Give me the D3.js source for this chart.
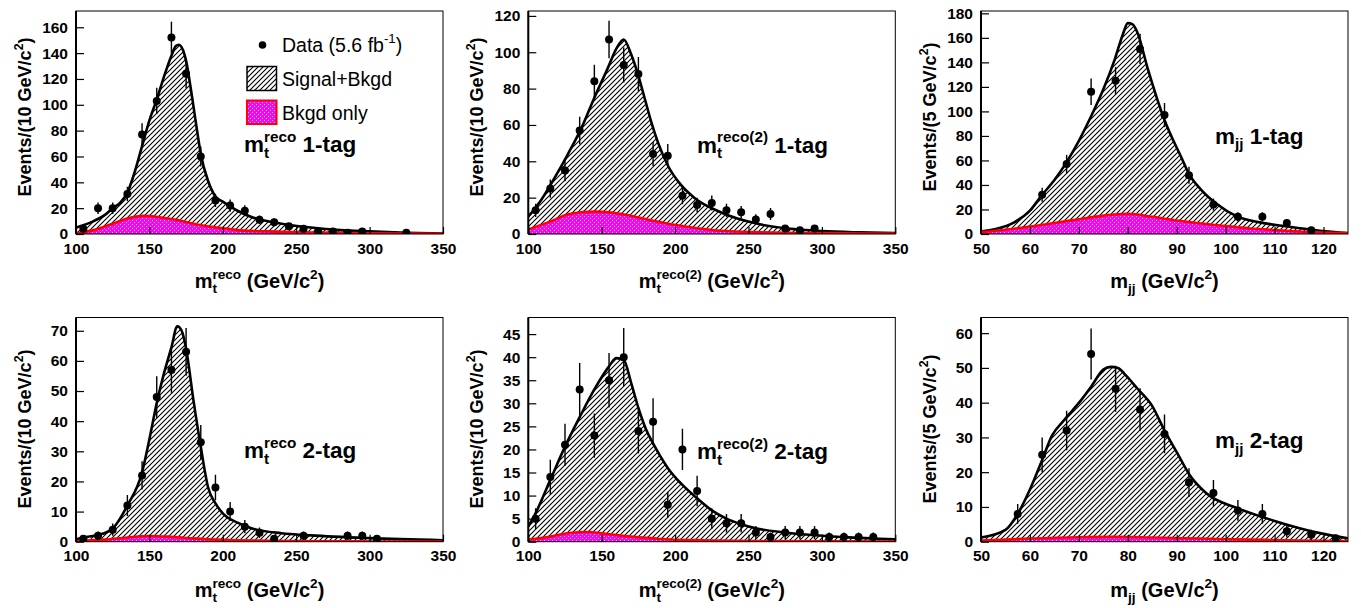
<!DOCTYPE html>
<html>
<head>
<meta charset="utf-8">
<script src="https://cdn.jsdelivr.net/npm/d3@7"></script>
<style>
  body { margin: 0; background: #fff; }
  svg { font-family: "Liberation Sans", Arial, Helvetica, sans-serif; }
  text { white-space: pre; }
</style>
</head>
<body>
<div id="chart"></div>
<script>
// bin centres
var mtBins  = [105,115,125,135,145,155,165,175,185,195,205,215,225,235,245,255,265,275,285,295,305,315,325,335,345];
var mjjBins = [52.5,57.5,62.5,67.5,72.5,77.5,82.5,87.5,92.5,97.5,102.5,107.5,112.5,117.5,122.5];

// tick labels
var mtTicks  = [100,150,200,250,300,350];
var mjjTicks = [50,60,70,80,90,100,110,120];
var yTicks1 = [0,20,40,60,80,100,120,140,160];
var yTicks2 = [0,20,40,60,80,100,120];
var yTicks3 = [0,20,40,60,80,100,120,140,160,180];
var yTicks4 = [0,10,20,30,40,50,60,70];
var yTicks5 = [0,5,10,15,20,25,30,35,40,45];
var yTicks6 = [0,10,20,30,40,50,60];

// data counts per bin (0 = empty, not drawn)
var data1 = [4,20,20,31,77,103,152,124,60,26,22,18,11,9,6,4,2,2,1,2,0,0,1,0,0];
var data2 = [13,25,35,57,84,107,93,88,44,43,21,16,17,13,12,8,11,3,2,3,0,0,0,0,0];
var data3 = [0,0,32,57,116,125,151,97,48,24,14,14,9,3,0];
var data4 = [1,2,4,12,22,48,57,63,33,18,10,5,3,1,0,2,0,0,2,2,1,0,0,0,0];
var data5 = [5,14,21,33,23,35,40,24,26,8,20,11,5,4,4,2,1,2,2,2,1,1,1,1,0];
var data6 = [0,8,25,32,54,44,38,31,17,14,9,8,3,2,1];

// Signal+Bkgd curves [mass, events]
var total1 = [[100,5],[112,10],[120,15],[125,20],[130,24],[135,32],[140,48],[145,68],[150,88],[155,104],[160,122],[165,138],[168,145.5],[170,146.5],[173,142],[175,134],[178,114],[180,99],[183,76],[185,62],[190,41],[195,29],[200,25],[210,18],[220,13],[230,10],[240,8],[260,5],[280,3],[300,2],[325,1],[350,0.4]];
var total2 = [[100,9.5],[109,19],[118,31],[127,44],[136,58],[145,75],[154,91],[160,102],[165,107],[170,99],[175,87],[179.5,74],[184,61],[188.5,50],[195.5,37],[204,27],[213,20],[231,12],[254,6],[277,3],[300,1.6],[325,0.9],[350,0.5]];
var total3 = [[50,2],[53,4],[56.8,9.5],[60,19],[62.3,31],[65,44],[67.4,58],[70,76],[72.5,96],[75,118],[77.3,142],[79,163],[80,172],[81,171],[82,164],[84,136],[87.5,93],[91,62],[92.5,49],[95,36],[98,25],[102.3,14.4],[107,9.5],[112.5,6.2],[119.3,2.7],[125,0.8]];
var total4 = [[100,0.8],[105,1.4],[115,2.2],[125,4.4],[135,12],[145,23],[150,34],[155,46],[160,56],[165,64.5],[169,71.5],[172,70],[175,64],[180,47],[185,31.5],[190,18],[195,12.7],[200,9.4],[210,6.3],[220,4.4],[240,2.8],[260,2.1],[300,1.2],[350,0.5]];
var total5 = [[100,3.3],[105,6.2],[115,13.4],[125,20.6],[135,27],[145,33],[155,38],[160,39.8],[165,39.4],[170,34.5],[175,29],[180,24.5],[185,21.3],[190,18.5],[195,16],[205,12.3],[215,9.4],[225,6.8],[235,5],[245,3.8],[255,2.9],[275,2],[295,1.4],[315,1],[350,0.5]];
var total6 = [[50,1.2],[55,3.4],[57.5,8],[60,15],[62.5,23.5],[64.5,30.5],[67,35],[70.5,40.8],[72.5,44.6],[75,49.5],[76.5,50.3],[78,50],[79.5,48],[82,44],[85,39],[87.5,32],[90.5,24.5],[92.5,19.5],[96,14],[102.5,9.6],[109.5,6.2],[119.5,2.4],[125,1]];

// Bkgd only curves
var bkg1 = [[100,0.5],[112,3],[125,8],[135,12],[146,14],[157,13],[169,10.8],[180,8],[191,5.7],[200,4.5],[214,2.6],[230,2],[250,1.4],[300,0.6],[350,0.2]];
var bkg2 = [[100,2.5],[115,6.8],[128,11],[146,12.3],[167,10.5],[185,7.3],[208,4],[231,1.8],[260,1],[300,0.5],[350,0.2]];
var bkg3 = [[50,1.5],[55,3.5],[60,6],[65,9],[70,12],[75,15],[80,16.5],[85,14],[90,11],[95,8.5],[100,6.5],[105,4.5],[110,3.2],[115,2],[120,1.2],[125,0.6]];
var bkg4 = [[100,0.2],[120,0.7],[135,1.4],[150,1.9],[165,1.6],[180,1.1],[200,0.6],[230,0.3],[280,0.1],[350,0.05]];
var bkg5 = [[100,0.4],[115,1.1],[128,1.9],[140,2.1],[155,1.6],[170,1.1],[190,0.6],[220,0.3],[260,0.15],[350,0.05]];
var bkg6 = [[50,0.3],[60,0.9],[70,1.3],[77,1.4],[85,1.2],[95,0.9],[105,0.6],[115,0.35],[125,0.2]];

var width = 1361, height = 608;
var cols = [76, 528.3, 981], pw = 367;
var rows = [{top: 11, bottom: 234, ytc: 117, xtb: 288},
            {top: 317.5, bottom: 541.7, ytc: 429, xtb: 596.5}];

var varMt  = [{t:"m"},{t:"t",sub:1,small:1,hold:1},{t:"reco",sup:1,small:1}];
var varMt2 = [{t:"m"},{t:"t",sub:1,small:1,hold:1},{t:"reco(2)",sup:1,small:1}];
var varMjj = [{t:"m"},{t:"jj",sub:1,small:1}];

var panels = [
  {c:0, r:0, bins:mtBins,  n:data1, tot:total1, bkg:bkg1, xd:[100,350], xt:mtTicks,  ymax:172.6, yt:yTicks1, v:varMt,  tag:" 1-tag", bw:"10", lx:244,  ly:152, legend:true},
  {c:1, r:0, bins:mtBins,  n:data2, tot:total2, bkg:bkg2, xd:[100,350], xt:mtTicks,  ymax:122.7, yt:yTicks2, v:varMt2, tag:" 1-tag", bw:"10", lx:697,  ly:152.5},
  {c:2, r:0, bins:mjjBins, n:data3, tot:total3, bkg:bkg3, xd:[50,125],  xt:mjjTicks, ymax:181.9, yt:yTicks3, v:varMjj, tag:" 1-tag", bw:"5",  lx:1215, ly:143.5},
  {c:0, r:1, bins:mtBins,  n:data4, tot:total4, bkg:bkg4, xd:[100,350], xt:mtTicks,  ymax:74.4,  yt:yTicks4, v:varMt,  tag:" 2-tag", bw:"10", lx:244,  ly:458.3},
  {c:1, r:1, bins:mtBins,  n:data5, tot:total5, bkg:bkg5, xd:[100,350], xt:mtTicks,  ymax:48.6,  yt:yTicks5, v:varMt2, tag:" 2-tag", bw:"10", lx:697,  ly:459.3},
  {c:2, r:1, bins:mjjBins, n:data6, tot:total6, bkg:bkg6, xd:[50,125],  xt:mjjTicks, ymax:64.5,  yt:yTicks6, v:varMjj, tag:" 2-tag", bw:"5",  lx:1215, ly:448.3}
];

var svg = d3.select("#chart").append("svg")
    .attr("width", width)
    .attr("height", height);

var defs = svg.append("defs");
// hatch for Signal+Bkgd
defs.append("pattern")
    .attr("id", "hatch")
    .attr("patternUnits", "userSpaceOnUse")
    .attr("width", 5).attr("height", 5)
  .append("path")
    .attr("d", "M-1,1 L1,-1 M0,5 L5,0 M4,6 L6,4")
    .attr("stroke", "#000")
    .attr("stroke-width", 1.1);
// dotted magenta for Bkgd only
var dots = defs.append("pattern")
    .attr("id", "dots")
    .attr("patternUnits", "userSpaceOnUse")
    .attr("width", 4).attr("height", 4);
dots.append("rect").attr("width", 4).attr("height", 4).attr("fill", "#f0f");
dots.append("rect").attr("x", 0).attr("y", 0).attr("width", 1).attr("height", 1).attr("fill", "#fbd");
dots.append("rect").attr("x", 2).attr("y", 2).attr("width", 1).attr("height", 1).attr("fill", "#fbd");

// text with sub/superscripts, returns total width
function rich(parent, pieces, size, weight, anchor) {
  var g = parent.append("g");
  var x = 0, holdX = null, holdW = 0;
  pieces.forEach(function(p) {
    var fs = p.small ? size * 0.68 : size;
    var dy = p.sub ? size * 0.26 : (p.sup ? -size * 0.45 : 0);
    var px = holdX !== null ? holdX : x;
    var t = g.append("text")
        .attr("x", px)
        .attr("y", dy)
        .style("font-size", fs + "px")
        .style("font-weight", weight)
        .text(p.t);
    var w = t.node().getComputedTextLength();
    if (holdX !== null) { x = holdX + Math.max(holdW, w); holdX = null; }
    else if (p.hold) { holdX = px; holdW = w; }
    else x = px + w;
  });
  if (anchor === "middle") g.attr("transform", "translate(" + (-x / 2) + ",0)");
  return x;
}

panels.forEach(function(p, i) {
  var left = cols[p.c], right = left + pw;
  var row = rows[p.r];

  var x = d3.scaleLinear().domain(p.xd).range([left, right]);
  var y = d3.scaleLinear().domain([0, p.ymax]).range([row.bottom, row.top]);

  var g = svg.append("g");
  var clipId = "clip" + i;
  defs.append("clipPath").attr("id", clipId)
    .append("rect")
      .attr("x", left).attr("y", row.top)
      .attr("width", pw).attr("height", row.bottom - row.top);

  var plot = g.append("g").attr("clip-path", "url(#" + clipId + ")");

  var area = d3.area()
      .x(function(d) { return x(d[0]); })
      .y0(y(0))
      .y1(function(d) { return y(d[1]); })
      .curve(d3.curveMonotoneX);
  var line = d3.line()
      .x(function(d) { return x(d[0]); })
      .y(function(d) { return y(d[1]); })
      .curve(d3.curveMonotoneX);

  plot.append("path").datum(p.tot).attr("d", area).attr("fill", "url(#hatch)");
  plot.append("path").datum(p.bkg).attr("d", area).attr("fill", "url(#dots)");
  plot.append("path").datum(p.tot).attr("d", line)
      .attr("fill", "none").attr("stroke", "#000").attr("stroke-width", 2.6);
  plot.append("path").datum(p.bkg).attr("d", line)
      .attr("fill", "none").attr("stroke", "#f00").attr("stroke-width", 2.6);

  // data points with sqrt(N) errors
  var pts = p.bins.map(function(b, k) { return [b, p.n[k]]; })
      .filter(function(d) { return d[1] > 0; });
  plot.append("g").selectAll("line")
    .data(pts)
    .enter()
    .append("line")
      .attr("x1", function(d) { return x(d[0]); })
      .attr("x2", function(d) { return x(d[0]); })
      .attr("y1", function(d) { return y(Math.max(0, d[1] - Math.sqrt(d[1]))); })
      .attr("y2", function(d) { return y(d[1] + Math.sqrt(d[1])); })
      .attr("stroke", "#000")
      .attr("stroke-width", 1.4);
  plot.append("g").selectAll("circle")
    .data(pts)
    .enter()
    .append("circle")
      .attr("cx", function(d) { return x(d[0]); })
      .attr("cy", function(d) { return y(d[1]); })
      .attr("r", 4)
      .attr("fill", "#000");

  // frame
  g.append("rect")
      .attr("x", left).attr("y", row.top)
      .attr("width", pw).attr("height", row.bottom - row.top)
      .attr("fill", "none").attr("stroke", "#000").attr("stroke-width", 1);
  g.append("line")
      .attr("x1", left).attr("x2", left).attr("y1", row.top).attr("y2", row.bottom)
      .attr("stroke", "#000").attr("stroke-width", 2);

  // axes
  var ya = g.append("g")
      .attr("transform", "translate(" + left + ",0)")
      .call(d3.axisLeft(y).tickValues(p.yt).tickSize(-8).tickPadding(8));
  var xa = g.append("g")
      .attr("transform", "translate(0," + row.bottom + ")")
      .call(d3.axisBottom(x).tickValues(p.xt).tickSize(-7).tickPadding(8.5));
  [ya, xa].forEach(function(a) {
    a.select(".domain").remove();
    a.selectAll(".tick line").attr("stroke", "#000").attr("stroke-width", 1.2);
    a.selectAll("text")
        .attr("fill", "#000")
        .style("font-size", "15.5px")
        .style("font-weight", "bold")
        .style("font-family", "'Liberation Sans', Arial, sans-serif");
  });

  // y title
  var yt = g.append("g")
      .attr("transform", "translate(" + (left - 45) + "," + row.ytc + ") rotate(-90)");
  rich(yt, [{t:"Events/(" + p.bw + " GeV/c"},{t:"2",sup:1,small:1},{t:")"}], 18, "bold", "middle");

  // x title
  var xt = g.append("g")
      .attr("transform", "translate(" + (left + pw / 2) + "," + row.xtb + ")");
  rich(xt, p.v.concat([{t:" (GeV/c"},{t:"2",sup:1,small:1},{t:")"}]), 20, "bold", "middle");

  // panel label
  var lb = g.append("g").attr("transform", "translate(" + p.lx + "," + p.ly + ")");
  rich(lb, p.v.concat([{t:p.tag}]), 22.5, "bold");

  if (p.legend) {
    var lg = g.append("g");
    lg.append("circle").attr("cx", 262.5).attr("cy", 45).attr("r", 3.8).attr("fill", "#000");
    rich(lg.append("g").attr("transform", "translate(282,51.7)"),
         [{t:"Data (5.6 fb"},{t:"-1",sup:1,small:1},{t:")"}], 19.5, "normal");
    lg.append("rect").attr("x", 247).attr("y", 66.5).attr("width", 29.5).attr("height", 24)
        .attr("fill", "url(#hatch)").attr("stroke", "#000").attr("stroke-width", 1.5);
    rich(lg.append("g").attr("transform", "translate(282,85.5)"), [{t:"Signal+Bkgd"}], 19.5, "normal");
    lg.append("rect").attr("x", 247).attr("y", 100.5).attr("width", 29.5).attr("height", 23.5)
        .attr("fill", "url(#dots)").attr("stroke", "#f00").attr("stroke-width", 2);
    rich(lg.append("g").attr("transform", "translate(282,120)"), [{t:"Bkgd only"}], 19.5, "normal");
  }
});
</script>
</body>
</html>
